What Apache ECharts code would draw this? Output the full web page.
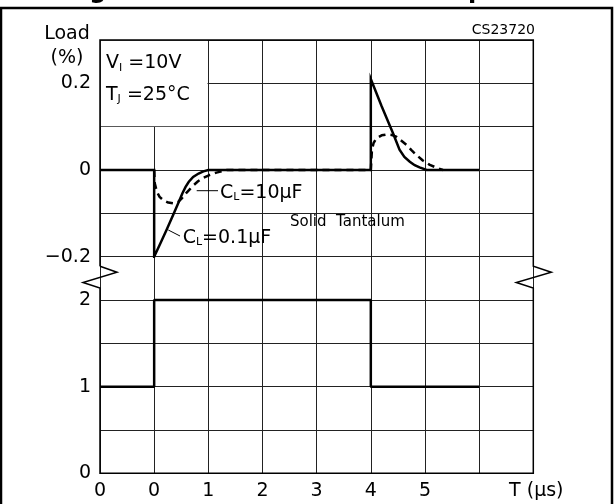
<!DOCTYPE html>
<html><head><meta charset="utf-8">
<script src="https://cdn.jsdelivr.net/npm/echarts@6/dist/echarts.min.js"></script>
<style>html,body{margin:0;padding:0;background:#fff}#c{width:614px;height:504px}</style>
</head><body><div id="c"></div>
<script>
// ---- data ----
const timeTicks = [-1, 0, 1, 2, 3, 4, 5, 6, 7];
const timeTickLabels = ['0', '0', '1', '2', '3', '4', '5', '', ''];
const loadTickLabels = { '-0.2': '\u22120.2', '0': '0', '0.2': '0.2' };
const inputTickLabels = { '0': '0', '1': '1', '2': '2' };

// output load deviation (%) vs time (us), C_L = 0.1uF
const outSolid01uF = [
  [-1, 0], [0, 0], [0, -0.2], [0.12, -0.168], [0.23, -0.138], [0.35, -0.104],
  [0.45, -0.075], [0.52, -0.054], [0.58, -0.039], [0.64, -0.027], [0.72, -0.016],
  [0.82, -0.008], [0.91, -0.003], [1.0, 0], [4, 0], [4, 0.21], [4.2, 0.147],
  [4.41, 0.085], [4.53, 0.047], [4.62, 0.03], [4.72, 0.019], [4.81, 0.011],
  [4.9, 0.006], [5.03, 0], [6, 0]
];
// output load deviation (%) vs time (us), C_L = 10uF
const outDashed10uF = [
  [0, 0], [0.01, -0.03], [0.05, -0.05], [0.1, -0.062], [0.17, -0.07], [0.26, -0.075],
  [0.35, -0.077], [0.44, -0.074], [0.52, -0.064], [0.6, -0.052], [0.72, -0.036],
  [0.81, -0.026], [0.91, -0.018], [1.03, -0.011], [1.15, -0.006], [1.25, -0.003],
  [1.34, 0], [4, 0], [4.02, 0.045], [4.05, 0.062], [4.1, 0.073], [4.2, 0.08],
  [4.29, 0.082], [4.38, 0.081], [4.47, 0.077], [4.56, 0.068], [4.66, 0.058],
  [4.75, 0.046], [4.84, 0.035], [4.96, 0.022], [5.09, 0.012], [5.2, 0.006], [5.33, 0]
];
// load step
const loadStep = [[-1, 1], [0, 1], [0, 2], [4, 2], [4, 1], [6, 1]];

// ---- chart ----
const FONT = 'DejaVu Sans';
const GRID_LINE = { show: true, lineStyle: { color: '#222', width: 1 } };
const chart = echarts.init(document.getElementById('c'), null, { renderer: 'canvas' });

const xBase = {
  type: 'value', min: -1, max: 7, interval: 1,
  axisLine: { show: false }, axisTick: { show: false }, splitLine: GRID_LINE
};

chart.setOption({
  animation: false,
  backgroundColor: '#fff',
  grid: [
    { left: 100, right: 80.7, top: 40, height: 216.7, outerBoundsMode: 'none' },
    { left: 100, right: 80.7, top: 256.7, height: 216.6, outerBoundsMode: 'none' }
  ],
  xAxis: [
    Object.assign({}, xBase, { gridIndex: 0, axisLabel: { show: false } }),
    Object.assign({}, xBase, {
      gridIndex: 1,
      axisLabel: {
        margin: 8, color: '#000', fontSize: 19, fontFamily: FONT,
        formatter: v => { const i = timeTicks.indexOf(Math.round(v)); return i >= 0 ? timeTickLabels[i] : ''; }
      },
      name: 'T (\u03bcs)', nameLocation: 'end', nameGap: 3,
      nameTextStyle: { color: '#000', fontSize: 19, fontFamily: FONT, align: 'center', verticalAlign: 'top', padding: [8, 0, 0, 0] }
    })
  ],
  yAxis: [
    {
      gridIndex: 0, type: 'value', min: -0.2, max: 0.3, interval: 0.1,
      axisLine: { show: false }, axisTick: { show: false }, splitLine: GRID_LINE,
      axisLabel: {
        margin: 9, color: '#000', fontSize: 19, fontFamily: FONT,
        formatter: v => { const k = String(Math.round(v * 10) / 10); return loadTickLabels[k] || ''; }
      }
    },
    {
      gridIndex: 1, type: 'value', min: 0, max: 2.5, interval: 0.5,
      axisLine: { show: false }, axisTick: { show: false }, splitLine: GRID_LINE,
      axisLabel: {
        margin: 9, color: '#000', fontSize: 19, fontFamily: FONT,
        formatter: v => { const k = String(Math.round(v * 10) / 10); return inputTickLabels[k] || ''; }
      }
    }
  ],
  series: [
    {
      name: 'C_L = 0.1uF', type: 'line', xAxisIndex: 0, yAxisIndex: 0, data: outSolid01uF,
      showSymbol: false, symbol: 'none', z: 4,
      lineStyle: { color: '#000', width: 2.5, join: 'miter' }
    },
    {
      name: 'C_L = 10uF', type: 'line', xAxisIndex: 0, yAxisIndex: 0, data: outDashed10uF,
      showSymbol: false, symbol: 'none', z: 5,
      lineStyle: { color: '#000', width: 2.5, type: [7, 5] }
    },
    {
      name: 'Load', type: 'line', xAxisIndex: 1, yAxisIndex: 1, data: loadStep,
      showSymbol: false, symbol: 'none', z: 4,
      lineStyle: { color: '#000', width: 2.5 }
    }
  ]
});

// ---- decorations: frame, broken-axis border, annotations ----
const P = (x, y, g) => chart.convertToPixel({ gridIndex: g }, [x, y]);
const tl = P(-1, 0.3, 0), brk0 = P(-1, -0.2, 0), br = P(7, 0, 1), brk1 = P(-1, 2, 1);
const L = tl[0], R = br[0], T = tl[1], B = br[1];
const g0 = brk0[1] + 9.6, g1 = brk1[1] - 12;
const border = [
  [L, g0], [L, T], [R, T], [R, g0], [R + 18, g0 + 6], [R - 17, g1 - 5.5], [R, g1], [R, B],
  [L, B], [L, g1], [L - 17, g1 - 5.5], [L + 17, g0 + 6], [L, g0]
];
const maskBR = P(1, 0.1, 0);

const sub = { fontSize: 11, fontFamily: FONT, fill: '#000', padding: [9, 0, 0, 0] };
const nrm = { fontSize: 19, fontFamily: FONT, fill: '#000' };
function txt(x, y, text, extra) {
  return Object.assign({ type: 'text', x: x, y: y, z: 10,
    style: Object.assign({ text: text, fill: '#000', fontSize: 19, fontFamily: FONT, align: 'left', verticalAlign: 'middle' }, extra || {}) });
}
function richTxt(x, y, text) {
  return { type: 'text', x: x, y: y, z: 10,
    style: { text: text, align: 'left', verticalAlign: 'middle', rich: { n: nrm, s: sub } } };
}

chart.setOption({
  graphic: [
    { type: 'rect', z: 1, shape: { x: L + 0.8, y: T + 0.8, width: maskBR[0] - L - 1.6, height: maskBR[1] - T - 1.3 }, style: { fill: '#fff' } },
    { type: 'polyline', z: 8, shape: { points: border }, style: { stroke: '#000', lineWidth: 1.5, fill: null } },
    { type: 'rect', z: 8, shape: { x: 1, y: 8, width: 611, height: 510 }, style: { stroke: '#000', lineWidth: 2.5, fill: null } },
    txt(307, 4, 'Figure 27. Load Transient Response', { fontSize: 24, fontWeight: 'bold', align: 'center', verticalAlign: 'bottom' }),
    txt(67, 34, 'Load', { align: 'center' }),
    txt(67, 58.5, '(%)', { align: 'center' }),
    txt(535, 30, 'CS23720', { fontSize: 14, align: 'right' }),
    richTxt(106, 63.5, '{n|V}{s|I}{n| =10V}'),
    richTxt(106, 95, '{n|T}{s|J}{n| =25\u00b0C}'),
    richTxt(220, 193, '{n|C}{s|L}{n|=10\u03bcF}'),
    richTxt(182.7, 238, '{n|C}{s|L}{n|=0.1\u03bcF}'),
    txt(290, 222, 'Solid  Tantalum', { fontSize: 15 }),
    { type: 'line', z: 9, shape: { x1: 196.7, y1: 190.7, x2: 218, y2: 190.7 }, style: { stroke: '#000', lineWidth: 1 } },
    { type: 'line', z: 9, shape: { x1: 168.3, y1: 230, x2: 180, y2: 236 }, style: { stroke: '#000', lineWidth: 1 } }
  ]
});
</script>
</body></html>
